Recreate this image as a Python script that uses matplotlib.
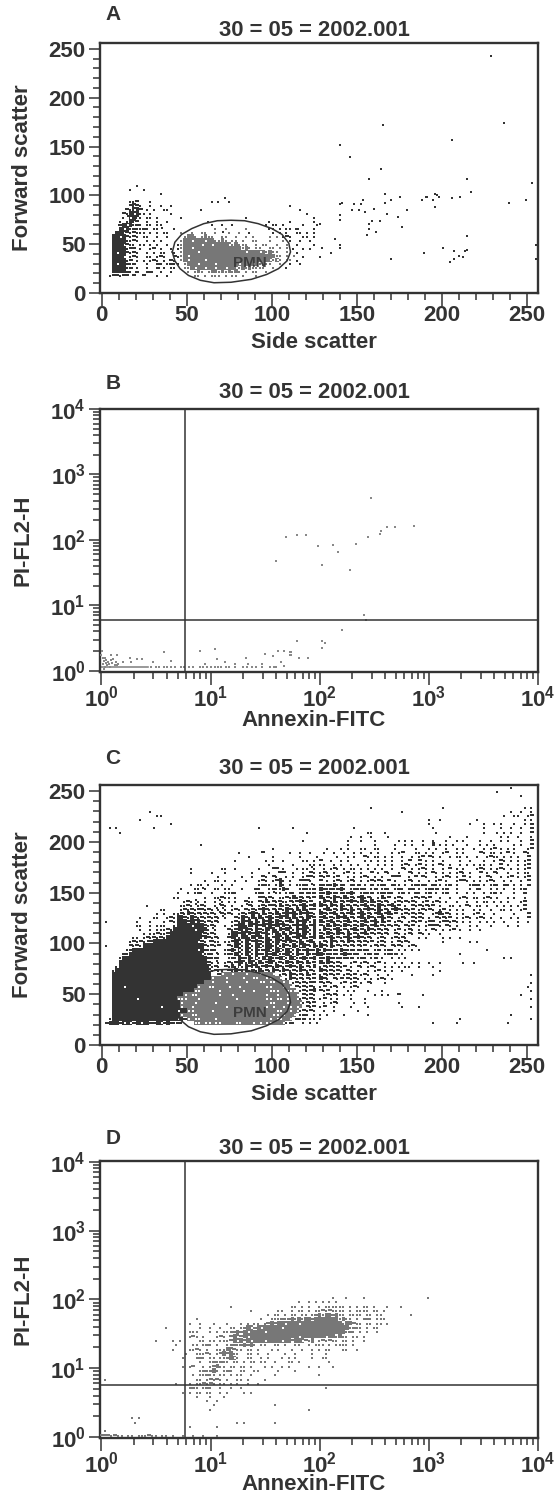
import matplotlib
matplotlib.use('Agg')
import matplotlib.pyplot as plt
import numpy as np

plt.rcParams['font.family'] = ['Liberation Sans', 'DejaVu Sans']
plt.rcParams['font.weight'] = 'bold'
plt.rcParams['axes.labelweight'] = 'bold'
plt.rcParams['mathtext.fontset'] = 'custom'
plt.rcParams['mathtext.rm'] = 'Liberation Sans:bold'
plt.rcParams['mathtext.bf'] = 'Liberation Sans:bold'

W, H = 554, 1494
INK = '#333333'
GREY = '#777777'

title = '30 = 05 = 2002.001'
scatter_xticks = [0, 50, 100, 150, 200, 250]
scatter_yticks = [0, 50, 100, 150, 200, 250]
log_ticks = [1, 10, 100, 1000, 10000]
log_ticklabels = ['$10^{0}$', '$10^{1}$', '$10^{2}$', '$10^{3}$', '$10^{4}$']

# PMN gate outline
gate_x = [41.5, 43, 47, 53, 60, 68, 76, 84, 92, 100, 106, 110, 111, 109, 104, 97, 88, 76, 66, 58, 51, 46, 43, 41.5]
gate_y = [42, 52, 60, 66, 71, 74, 74.5, 74, 71, 66, 60, 51, 42, 33, 25, 19, 14, 11, 10.5, 13, 18, 25, 33, 42]

# Panel A, lone events to the right
a_x = [229, 236.4, 165.3, 206, 139.8, 146, 164.1, 157.4, 214.9, 253.1, 166.4, 217.4, 195.9, 197.2, 198.4, 175.3,
       191.5, 190.4, 210.9, 205.9, 188.2, 194.5, 170.2, 153.7, 141, 139.8, 148.6, 152.5, 166.4, 239.2, 249.4,
       195.9, 147.4, 151.1, 154.9, 160.2, 179.2, 167.8, 139.8, 174.1, 139.8, 158.8, 163.9, 128.4, 157.4, 176.4,
       157.4, 161.3, 156.2, 214.9, 137.2, 139.8, 139.8, 129.6, 200.9, 207.2, 214.9, 213.7, 134.7, 189.4, 209.8,
       212.3, 170.2, 207.2, 204.7, 255.5, 255.5]
a_y = [242.7, 173.6, 171.9, 156.5, 151.3, 139, 126.7, 117.1, 117.1, 112.7, 101.7, 103.1, 101.4, 100, 98.6, 98.6,
       98.6, 98.6, 98.6, 96.9, 95.2, 95.2, 95.2, 95.2, 92.1, 90.8, 90.8, 90.8, 92.1, 92.1, 95.2,
       87.7, 84.6, 84.6, 82.9, 86, 84.6, 81.2, 79.8, 78.1, 75, 73.6, 73.6, 70.6, 70.6, 67.1,
       65.8, 62.7, 59.6, 57.9, 54.8, 48.7, 45.6, 45.6, 45.6, 43.5, 43.9, 42.5, 40.8, 40.8, 37.7,
       36.7, 34.6, 34.6, 32.2, 48.7, 34.6]

# Occupancy maps: # dark cell, x dark cell with white dot, O grey cell, w grey cell with white dot,
# . and ' dark dots, - dark dash, o grey dot, g grey dash. One char is 2 channels wide and 4 channels high.
a_rows_top = 110
a_rows = [
    "          .",
    "        .   .",
    "                 .",
    "                                    .",
    "        ..-   .                 . .  .",
    "        -x-.  .  .  .                                  .",
    "       -.x#- . .  ..         .                            .",
    "      -.#x#.. .     .                                       .",
    "      .'x#x. .. .      .                  .                   .",
    "     . .#x-  .  .  .           .                 .     .      .",
    "     -#x#.-. .. ..              .  .  .         . .. .     .   .",
    "     #x#.-..-. ..'   .           o  o     o      .. . .. -    .",
    "    ##x-.-... . . ..   o  o  oo  o ' o  o  .      . . .  .. . .",
    "   ##x#-.-. ..  .  .    oOOo oOoo  oo  o  o o    o o .-.   .. .",
    "   ####..-.  . . .     oOOwOOOwOOooOo oo o  oo   o   o .  .  .",
    "   ###x-.. .. . .  .  .oOOOOOwOOwOOOOwoOooo  o oo  o  o  .    .",
    "   ####.-- .  .- .  . .oOOwOOOOOOOOOOOOOOoOo oo  oo o o .  . .",
    "   #x##-.-.  . . ..  . oOOOOwOOOOOOOOOOOOOwOOOwOoOoo  o  .",
    "   ###x .-.  .. .-.  -.oOwOOOOOOOOOOOOOOOOOOOOOOOOOoo o o  .    .",
    "   ####.- . . .-. . -. oOwOOOOwOOOOOOOOOOOOOOOOOOwowo oo .",
    "   #x##-.-   .  -. .-.. oOOOwOOOOwOOOOOOwOOOwOoOoo  o  .  .",
    "   ####.- .  .  - . ..  ooOwOOwOOwOOwOOwoOoOoooo  o   .",
    "   ####-. -  --  .  .    o oOo oOOoOoOoOo o oo  o",
    "  .--.-- -  -   .  .       oo o ooo o oo o   o",
]

c_rows_left = [
    "", "", "", "", "", "",
    "              .",
    "                ..",
    "           .",
    "                    .",
    "  . .          .                              .         .",
    "     .                                                      .",
    "",
    "                                                           .",
    "                             .",
    "                                                  .",
    "                                        .      -       .  .  .",
    "                                           .      .       .    .",
    "                                       .        . .  .     .. .",
    "                                                 .      .    ..",
    "                          .        ..  .      .   -- .   . ..'.",
    "                          .     .   .       .    .  --  .  . -.",
    "                                  .      .  .  -. -.  . .  .--.",
    "                              .  .. .  .  .   .-. .-#. .  ---.",
    "                          . .. .   .  .       .-.. .#. . ..-.'.",
    "                       .   ..'.  .. ..   .   -.  .-..#-   .-..-",
    "                      .  . .-.  .   ..-.     .-. .'.. .-. -.-.-",
    "                     ..       .  ..-.. .   .  --.-. ..-.#.-.-.-",
    "                        .-.'. .  .'. . .  -.. -.#.-.-..-.-#-.-",
    "             .         ..-.'.-.  .'-. .  .'-. .-.--.#.-.-.-#.-#",
    "                 ..    .-.-.--.-.'.'. .-. -.-.-#-.-.-.#-.#.#.--",
    "                . .  ..-.#-.-.-.-.'-.-. .-.-#-.#.-.#.-#-#.#-#-.",
    "           .   ..  .-.##-.#-.-.-.-.'.  -.#-.#.#.-#.-#x#.#.-.#x-",
    " .        .   .   . -.###-#x#-.-.-.   .-.#-#.#.#-#.#-.-#.#-#x.#",
    "          ..  . ...  .####x###-.-.  . .-##.#x#-#x#-#x#-.-#-#.-#",
    "           .  . ...-.######x###.'.   -.-#x#-.#-.#x#.#-#x.#-#x.#",
    "            . ..-..-#########x-.-.   .##-#x#-#x-#.x#.#.#-#.#x.#",
    "         .. .-.-.-.##########x#-.-.  -#x.##.#x#.#.-#x.#.-#x#.-#",
    "        .-.-.'-#############x-.'-.. ..-#x.#x-#-.#x.#x-x#-.#.-#.",
    " .      -.-.##################-.-.-  -.#x.#x.#x.##.x.#-.#.x#-.#.",
    "       .-###################x#-.-.  .-#.x.#x.#.-#x.#x.#x.#.-#-.#",
    "      -.#####################x.-.'. .-.#x.#x.#-.#-#x.-#x.#-.#.-#",
    "     .#########################-.-.  .-.#-.#.x.#x#.-#x.#x.-#.-#",
    "     ##########################-.'. .-.-#x.#x.#.-#x.-.#-.#-.#.-",
    "    .##########################x.-. -.#.x.#-x#.-#-.#-.-#-.#.-.#",
    "   .###########################x.-.. -.#-.#.-.#.-.#-.#-.-.#-.-.",
    "   #############################  -wOOwOOOwOOOwOOOw .-.#-.-.#.-",
    "   #############################wOOOwOOOOwOOwwOOwwOOw .#-.-.-.-",
    "   ###########################OOwOOOwOOOOOwOOOwwOwwOOwO .-.-.--",
    "   ###x#####################wOOwwOOOOwOOwOOOOOOOwwOOOwOw -.-.-.",
    "   ########################wwOOOOOwOOOOOOwOOwOOOOwwwOOwww .-.-#",
    "   #####################wOwwOOOOOOwOOOwOOOOOOOOOwOOwOOwOOw -.-.",
    "   #######x###########wwwOOOwOOOOOOOOOOwOOOOOOOOwwOwwOwOOw.-.-.",
    "   ####################wOOOwOOOOOwOOOOOOOOOOOOOOOwwOOOwOOOw.-.-",
    "   ##############x#####wOOwOOOOOOOOOwOOOOOOOOOOOwOwOOwOwOwO -.-",
    "   ###################x##wwOOOOOwOOOOOOOOOOOOOOOOOOwwOOwOw.-.-.",
    "   ####################wOOwwOOOOOOOOOOOOOOOOOOOOOOwwOwOOw .-. .",
    "  .###################x#-wOwwOOOOwOOOOOOOOOOOOOOOwOwwOOw -.- ..",
    " -###-x#x-#x##--#x-#-.-.   wwOwwOwwOOOOwwOOOwOwOwwOOOw.-.  . . .",
]

c_rows_right = [
    "                                                        .",
    "                                                    .",
    "                                                           .",
    "",
    "",
    "               .                    .                       . .",
    "                        .                               .  .  .",
    "                                                      .  ..  .-",
    "                                .  .          .             . .",
    "                                .           .   .  . .   .  . -",
    "          .                      .              .    .  .  .  -",
    "              ..   .              .             .   . . .  .  -",
    "         .  .  .    .                 .    .         . .  .   .",
    "        .   .   .      . . .  .  .   .  . .    .  .  . .   .  -",
    "        .       .     .  . .  .  # . . .   .   . . .     . .  -",
    "  .   . .   ..  ..    .     .   . .  .  . .  .  . .- . . .   .-",
    " .  .  .  . .  . .   . .-   .. . .  .-  . .    -. .. . - .  -.",
    "     .  . .  -. .. . .  .  . .- -. .  . .. .  .  .-.. . . .  -",
    "-  .  . .    . . . . .  . -  - . .  .    .  .   .  . -. . . .-",
    "..  . .  . .  .  . . .  .-. .- . . -. .  . . . .. .  - .  . .-",
    " . .-. . .. . . . .  .  -. . .-. .  . - . .   .-. . .-. . . .-",
    ".-. .  .- . .  - . -.  .  -. . . -. . . .-. .  - . -.  .  . ..",
    "-.- .-  . . .-. . .  ---  . - -.  . .-. . - .  . -.  . .- . .-",
    "- . .-. .-. . .-.-. - .  .-. .  . .- .  .--. . . .-.  . .  . -",
    "-.-.#.-. -.- . - .-. -.. . .-.-. -.. .- .   .-- . .-. -. . . -",
    "#-.-.-#. .-.-. .- .-. .-. -- . .-.- .-  .   . -.  . . .  . .-",
    "-.#.-.-.-#. .-.- .-.-. .- . -. .- . .-  .  . .  . .- .   .  -",
    "#.-.#-.#.-.-#.-. .#.- .-.  .-.-.-  .  .  .-. .. .-. .  . .  .",
    ".#-.#.-.-#-.#-.#.-.-. .-.-.-. .- .-. .  .  .  . .. . . .   .-",
    "#-.#-.#.-.-.-#.-.#-.-#.- . -.-.-.- .  .. . -. .. .  . . . . -",
    ".-#.-.#-.#.-.-#-.#.-.-#-.-.- .-.-. .- . . .  . .  .  .. .  .-",
    "#-.-#.-.-#.-#.-.-#.-#.- .-.-.-.  .-#.-. . .  .- .  .     .   -",
    "-#.-.#-#.-.-#.#-.-#.-. .-. -.-. . -.-.- . .-. .-. .  .  . .  -",
    "#.-#.-.-#.-.-#.-#.#.- .-. .-.- .-- .--.-. . .  . . .  .   .  .",
    "-.#.#-.#-.-.#-.-#.-.-.-. -.- . .---. -. .   . .   .    .  .",
    ".#-.-#.-.-#.-.#-.-.-. .- .-. . . -. . .- .  .  .",
    "-.#-.#-.#.-.-#.-.-.-. -. .-. -. .  .",
    "#.-#.-.-#.-#-.-. .-. .-.-.   . .    . .  .",
    ".-.#-.-.#-.-.-.- .-. . -.-.         .       . .",
    "#-.#.-.-.-.-.- .-.-. -.-. .-.",
    ".#-.-.#-.-.-.-. .- .-. . . . .                   .",
    "#.-.-.-#-.-. .-.-. .-.- .                .",
    "-.#-.-.-.- .-. .- .  . . .                            . .",
    "#.#-.-.  .- .-. .- .  . .  . .  .  .      .  .",
    ".-.-.-.- . -. .-.  . . . ..  .   .",
    "#-.-.-. -. .  . .- . .  .          .",
    ".-.-.- .-.- .-.  .  .      .     .                            .",
    "#-. -.- -.-. . . .-. .",
    "-.-.  .- .- . -.   .                                          .",
    ".- .-. . .-.                                                 .",
    "-.-  .  . .   .   .                                           .",
    " .-.-. . .      . . .  -      .                            .",
    ".- . .   .   .                                                .",
    " . .-.    .  .         .",
    ".-  .    .    .         .    .                                .",
    " .  .      .",
    ". .    .      .                                         .",
    ".                                        .                    .",
    "                                 .      .              .",
]

# Panel B, read in decades from the axes origin
b_logx = [1.69, 1.797, 1.596, 1.876, 1.986, 2.127, 2.173, 2.02, 2.283, 2.332, 2.442, 2.473, 2.552, 2.567, 2.616,
          2.693, 2.867, 2.412, 2.427, 2.206, 1.797, 2.02, 2.047, 2.02, 1.73, 1.73, 1.81, 1.89, 1.5, 1.576, 1.62,
          1.67, 1.735, 1.735, 1.65, 1.67, 1.326, 1.04, 0.904, 1.06, 1.13, 1.22, 0.95, 1.34, 1.47, 0.573, 0.634,
          0.476, 0.258, 0.37, 0.33, 0.2, 0.146, 0.085, 0.11, 0.0, 0.27, 0.01, 0.02, 0.03, 0.04, 0.05, 0.06, 0.07,
          0.08, 0.1, 0.12, 0.13, 0.14, 0.15, 0.01, 0.03, 0.02, 0.005, 0.045, 0.09]
b_logy = [2.05, 2.07, 1.67, 2.07, 1.9, 1.92, 1.82, 1.62, 1.54, 1.94, 2.04, 2.64, 2.09, 2.14, 2.2,
          2.2, 2.22, 0.85, 0.78, 0.63, 0.45, 0.46, 0.43, 0.35, 0.28, 0.24, 0.2, 0.2, 0.25, 0.23, 0.3,
          0.3, 0.28, 0.24, 0.14, 0.07, 0.2, 0.33, 0.3, 0.18, 0.13, 0.1, 0.1, 0.1, 0.1, 0.28, 0.15,
          0.13, 0.2, 0.18, 0.18, 0.13, 0.24, 0.24, 0.18, 0.24, 0.13, 0.1, 0.15, 0.05, 0.12, 0.08, 0.13, 0.1,
          0.05, 0.12, 0.09, 0.14, 0.08, 0.1, 0.2, 0.2, 0.03, 0.3, 0.16, 0.17]
b_floor_logx = [0.45, 0.5, 0.53, 0.57, 0.6, 0.64, 0.67, 0.73, 0.76, 0.8, 0.84, 0.9, 0.93, 0.97, 1.0, 1.04, 1.07,
                1.1, 1.14, 1.17, 1.22, 1.3, 1.33, 1.38, 1.42, 1.47, 1.55, 1.58, 1.6]
b_floor_logy = [0.055] * len(b_floor_logx)
b_line_x = [1, 2.65]
b_line_y = [1.135, 1.135]

# Panel D maps, one char is 1/32 decade wide and 1/16 decade high
d_rows_left = [
    "",
    "",
    "                                                          o  o o",
    "                                      o                 oo o o",
    "                                            o       oo  o oo o o",
    "                                                 o oo o oo oo ogo",
    "                            o                  o  ooogogOoOoOOgO",
    "                          o  o   o   o   o o oo ogOgOOwOOOwOOOOO",
    "                   o         o  o  o  oo ogOwgOwOOOOOwOOOOOOOOOO",
    "                          ooo   o o ooogOgOwOOOOwOOOOOOOOOOOOOOO",
    "                          ogo o   ogo gOwgOwOOOOOOOOOOOOOOwOOOOO",
    "                o    o o     oo oo ooogOwOgOwOOOwOOOOwOOgOOwgoO",
    "                      o    oo ogo o  oogogOgOo oo  oo o  oo  o o",
    "                     o    oogo o  oooOwgoo oo o   o o   o  o  o",
    "                         o  ooogo ogOgOoo  oo o  o    o  o    o",
    "                        o   ogo oo oogOwo  oo  o o   o o o    o",
    "                             o  ogogoo oo o oo oo  o   oo o",
    "                        o og  o ogOoo oo oo o   o o  o o     o",
    "                             ogogOo ogo  oo  oo     o    o",
    "                           o oogoo oo o oo  o      o",
    " o                          oo ogogo o  oo o    o",
    "                      o   o oogogo oo o o  o  o",
    "                          ogo ogo  o  o  o",
    "                        o o oo oo  o o    o o",
    "                            o   o   o",
    "                               o  o",
    "                                 o                 o",
    "                                o                            o",
    "",
    "         o o",
    "          o                             o o        o",
    "                          o       o",
    " o",
    "gggogoo oo ooogoo oo o  o  o  o   o",
]
d_rows_right = [
    "",
    "    o   o    o                  o",
    " o o o",
    "o oooooo o o oo o   o   o",
    "ogogoooo o oooo oo o",
    "OoOOgOoo oooo oo oo        o",
    "OOOOOOoOoo o ogo ooo",
    "OOOOOOOoOOgoo oo oo o",
    "OOOOOOOOOogoo o oo",
    "OOOOOOOOogo o o  o",
    "OOwOOoOoo oo o",
    "ogogoo oo o  o",
    "oo o oooo o",
    "o oo   oo  o",
    "  o",
    " oo",
    "   o",
    "o   o",
    "",
    "o",
    "",
    "",
    "  o",
]

# Panel order: letter, y axis label, x axis label
panel_letters = ['A', 'B', 'C', 'D']
scatter_xlabel = 'Side scatter'
scatter_ylabel = 'Forward scatter'
log_xlabel = 'Annexin-FITC'
log_ylabel = 'PI-FL2-H'


def add_axes_px(left, top, right, bottom):
    return fig.add_axes([left / W, 1 - bottom / H, (right - left) / W, (bottom - top) / H])


def read_cells(rows):
    cells = {}
    for r, row in enumerate(rows):
        for c, ch in enumerate(row):
            if ch != ' ':
                cells.setdefault(ch, []).append((c, r))
    return {k: np.array(v, dtype=float) for k, v in cells.items()}


def draw_cells(ax, rows, to_x, to_y):
    # to_x / to_y turn grid positions into data values
    cells = read_cells(rows)
    dot = (2.0 * 0.72) ** 2
    dash = (3.8 * 0.72) ** 2
    dash_shape = [(-1, -0.45), (1, -0.45), (1, 0.45), (-1, 0.45)]

    def fill(chars, color):
        for ch in chars:
            if ch in cells:
                pts = cells[ch]
                x0, x1 = to_x(pts[:, 0] - 0.5), to_x(pts[:, 0] + 0.5)
                y0, y1 = to_y(pts[:, 1] + 0.5), to_y(pts[:, 1] - 0.5)
                ax.bar(x0, y1 - y0, x1 - x0, y0, align='edge', color=color, linewidth=0, antialiased=False, zorder=2)

    def put(chars, dc, dr, **kw):
        for ch in chars:
            if ch in cells:
                pts = cells[ch]
                ax.scatter(to_x(pts[:, 0] + dc), to_y(pts[:, 1] + dr), linewidths=0, **kw)

    fill('#x', INK)
    fill('Ow', GREY)
    put('x', 0.2, 0.2, s=dot, marker='s', color='white', zorder=3)
    put('w', 0.2, 0.1, s=dot, marker='s', color='white', zorder=3)
    put('.', -0.2, 0.2, s=dot, marker='s', color=INK, zorder=3)
    put("'", 0.25, -0.2, s=dot, marker='s', color=INK, zorder=3)
    put('-', 0, 0, s=dash, marker=dash_shape, color=INK, zorder=3)
    put('o', -0.1, 0.1, s=(1.6 * 0.72) ** 2, marker='s', color=GREY, zorder=3)
    put('g', 0, 0, s=dash, marker=dash_shape, color=GREY, zorder=3)


def style_common(ax, x_pad):
    for sp in ax.spines.values():
        sp.set_linewidth(1.7)
        sp.set_color(INK)
    ax.tick_params(which='major', length=9.5, width=1.1, color=INK, labelcolor=INK, labelsize=16, pad=x_pad)
    ax.tick_params(axis='y', which='major', length=8, pad=2)
    ax.tick_params(which='minor', length=4.8, width=1.1, color=INK)


def place_labels(ax, bottom_px, height_px, label_px):
    ax.xaxis.set_label_coords(0.489, -(label_px - bottom_px) / height_px)
    ax.xaxis.label.set_va('center')
    ax.yaxis.set_label_coords(-0.175, 0.5)
    ax.yaxis.label.set_va('center')


def style_scatter(ax):
    ax.set_xlim(-1.3, 256.5)
    ax.set_ylim(0, 256)
    ax.set_xticks(scatter_xticks)
    ax.set_yticks(scatter_yticks)
    ax.set_xticks(np.arange(0, 260, 10), minor=True)
    ax.set_yticks(np.arange(0, 260, 10), minor=True)
    style_common(ax, -1)
    ax.set_xlabel(scatter_xlabel, fontsize=16, color=INK)
    ax.set_ylabel(scatter_ylabel, fontsize=16, color=INK)


def style_log(ax):
    ax.set_xscale('log')
    ax.set_yscale('log')
    ax.set_xticks(log_ticks)
    ax.set_xticklabels(log_ticklabels)
    ax.set_yticks(log_ticks)
    ax.set_yticklabels(log_ticklabels)
    minors = [m * 10 ** d for d in range(4) for m in range(2, 10)]
    ax.set_xticks(minors, minor=True)
    ax.set_yticks(minors, minor=True)
    ax.set_xticklabels([], minor=True)
    ax.set_yticklabels([], minor=True)
    style_common(ax, 0.5)
    ax.set_xlabel(log_xlabel, fontsize=16, color=INK)
    ax.set_ylabel(log_ylabel, fontsize=16, color=INK)


def head(letter, letter_px, title_px):
    fig.text(113 / W, 1 - letter_px / H, letter, fontsize=15, color=INK, ha='center', va='center')
    fig.text(314 / W, 1 - title_px / H, title, fontsize=15.8, color=INK, ha='center', va='center')


fig = plt.figure(figsize=(W / 100, H / 100), dpi=100, facecolor='white')

# A
ax = add_axes_px(99.5, 43, 538, 293)
draw_cells(ax, a_rows, lambda c: 2 * c + 1, lambda r: a_rows_top - 4 * r)
ax.scatter(a_x, a_y, s=(1.9 * 0.72) ** 2, marker='s', color=INK, linewidths=0, zorder=3)
ax.plot(gate_x, gate_y, color=INK, lw=1.1, zorder=5)
ax.text(87, 31, 'PMN', fontsize=11, color=INK, alpha=0.85, ha='center', va='center', zorder=6)
style_scatter(ax)
place_labels(ax, 293, 250, 342)
head(panel_letters[0], 14, 30)

# B
ax = add_axes_px(99.5, 408.5, 538, 671.5)
ax.plot(b_line_x, b_line_y, color='#888888', lw=1.2, zorder=2)
ax.scatter(10 ** np.array(b_logx), 10 ** np.array(b_logy), s=(1.4 * 0.72) ** 2, marker='s', color='#888888', linewidths=0, zorder=3)
ax.scatter(10 ** np.array(b_floor_logx), 10 ** np.array(b_floor_logy), s=(1.4 * 0.72) ** 2, marker='s', color='#888888', linewidths=0, zorder=3)
ax.axvline(5.87, color=INK, lw=1.1, zorder=4)
ax.axhline(5.9, color=INK, lw=1.1, zorder=4)
style_log(ax)
ax.set_xlim(10 ** -0.018, 10 ** 4.003)
ax.set_ylim(10 ** -0.012, 10 ** 4.009)
place_labels(ax, 671.5, 263, 721)
head(panel_letters[1], 383, 393)

# C
ax = add_axes_px(99.5, 785, 538, 1045)
c_rows = [a.ljust(64)[:64] + b for a, b in zip(c_rows_left, c_rows_right)]
draw_cells(ax, c_rows, lambda c: 2 * c + 1, lambda r: 254 - 4 * r)
ax.plot(gate_x, gate_y, color=INK, lw=1.1, zorder=5)
ax.text(87, 31.5, 'PMN', fontsize=11, color=INK, alpha=0.85, ha='center', va='center', zorder=6)
style_scatter(ax)
place_labels(ax, 1045, 260, 1095)
head(panel_letters[2], 759, 769)

# D
ax = add_axes_px(99.5, 1161, 538, 1438)
d_rows = [a.ljust(64)[:64] + b for a, b in zip(d_rows_left, d_rows_right + [''] * 20)]
draw_cells(ax, d_rows, lambda c: 10 ** (c * 0.03125), lambda r: 10 ** (2.09 - r * 0.0625))
ax.axvline(5.87, color=INK, lw=1.1, zorder=4)
ax.axhline(5.66, color=INK, lw=1.1, zorder=4)
style_log(ax)
ax.set_xlim(10 ** -0.018, 10 ** 4.003)
ax.set_ylim(10 ** -0.015, 10 ** 4.012)
place_labels(ax, 1438, 277, 1485)
head(panel_letters[3], 1138, 1148)

fig.savefig('out.png', dpi=100, facecolor='white')
